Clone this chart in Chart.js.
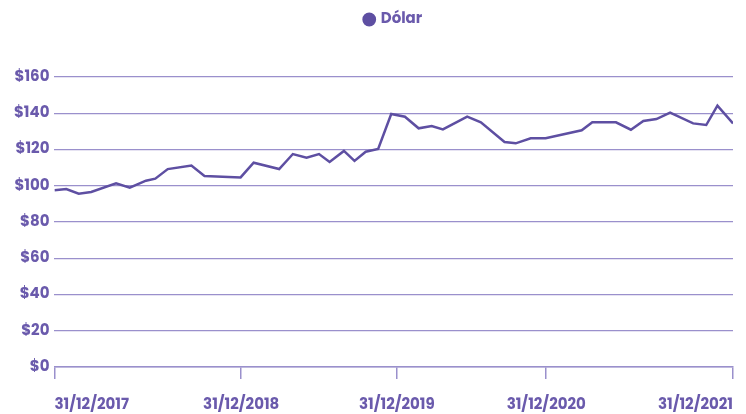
<!DOCTYPE html>
<html>
<head>
<meta charset="utf-8">
<script src="https://cdn.jsdelivr.net/npm/chart.js@4"></script>
<style>
    body { margin: 0; background: #fff; }
    #wrap { width: 746px; height: 414px; position: relative; }
</style>
</head>
<body>
<div id="wrap"><canvas id="myChart"></canvas></div>
<script>
// position of each observation along the axis (in data periods) and its value
const periods = [0, 1.9, 3.9, 5.9, 9.9, 12.1, 14.7, 16.2, 18.2, 22, 24.1, 29.9, 32, 36.1, 38.3, 40.5, 42.5, 44.2, 46.5, 48.2, 50, 52, 54.1, 56.3, 58.5, 60.6, 62.4, 66.3, 68.5, 72.3, 74.1, 76.5, 78.9, 84.7, 86.4, 90.2, 92.6, 94.6, 96.7, 98.9, 102.6, 104.7, 106.5, 109];
const dolar = [97.5, 98.2, 95.6, 96.6, 101.3, 98.9, 102.8, 103.9, 109.2, 111.1, 105.4, 104.6, 112.7, 109.2, 117.5, 115.5, 117.5, 113.1, 119.2, 113.7, 118.8, 120.3, 139.6, 138.1, 131.7, 133, 131.1, 138.1, 135, 124.1, 123.4, 126.2, 126.2, 130.6, 135, 135, 130.9, 135.7, 136.8, 140.3, 134.4, 133.5, 144.2, 134.4];

const tickPeriods = [0, 30, 55, 79, 109];
const tickLabels = ["31/12/2017", "31/12/2018", "31/12/2019", "31/12/2020", "31/12/2021"];
const yTicks = [0, 20, 40, 60, 80, 100, 120, 140, 160];

const purple = "#5e4fa2";
const textColor = "#6a5aac";
const gridColor = "#9a90cc";
const font = { family: "Poppins, Inter, 'Noto Sans', sans-serif", size: 15, weight: "bold" };

// extra room under the legend, and legend centred over the plot area
const legendGap = {
    id: "legendGap",
    beforeInit(chart) {
        const fit = chart.legend.fit;
        chart.legend.fit = function () {
            fit.bind(chart.legend)();
            this.height += 40;
        };
    },
    afterLayout(chart) {
        chart.legend.left = chart.chartArea.left;
        chart.legend.right = chart.chartArea.right;
        chart.legend.adjustHitBoxes();
    }
};

const ctx = document.getElementById("myChart");

new Chart(ctx, {
    type: "line",
    data: {
        datasets: [{
            label: "Dólar",
            data: periods.map((p, i) => ({ x: p, y: dolar[i] })),
            borderColor: purple,
            backgroundColor: purple,
            borderWidth: 2.5,
            pointRadius: 0,
            tension: 0,
            fill: false
        }]
    },
    options: {
        responsive: true,
        maintainAspectRatio: false,
        animation: false,
        layout: { padding: { left: 9, right: 13, top: 4, bottom: 0 } },
        plugins: {
            legend: {
                display: true,
                labels: {
                    usePointStyle: true,
                    pointStyle: "circle",
                    boxWidth: 8,
                    boxHeight: 8,
                    color: textColor,
                    font: font,
                    padding: 8
                }
            },
            tooltip: { enabled: false }
        },
        scales: {
            x: {
                type: "linear",
                min: 0,
                max: 109,
                afterBuildTicks: function (scale) {
                    scale.ticks = tickPeriods.map(v => ({ value: v }));
                },
                afterFit: function (scale) {
                    scale.height = 47;
                    scale.paddingRight = 0;
                },
                ticks: {
                    autoSkip: false,
                    maxRotation: 0,
                    align: "inner",
                    color: textColor,
                    font: font,
                    padding: 17,
                    callback: function (value, index) {
                        return tickLabels[index];
                    }
                },
                grid: {
                    drawOnChartArea: false,
                    drawTicks: true,
                    tickLength: 12,
                    color: gridColor,
                    lineWidth: 1.5
                },
                border: { display: true, color: gridColor, width: 1.5 }
            },
            y: {
                min: 0,
                max: 160,
                afterBuildTicks: function (scale) {
                    scale.ticks = yTicks.map(v => ({ value: v }));
                },
                ticks: {
                    color: textColor,
                    font: font,
                    padding: 5,
                    callback: function (value) {
                        return "$" + value;
                    }
                },
                grid: {
                    drawTicks: false,
                    color: gridColor,
                    lineWidth: 1.2
                },
                border: { display: false }
            }
        }
    },
    plugins: [legendGap]
});
</script>
</body>
</html>
